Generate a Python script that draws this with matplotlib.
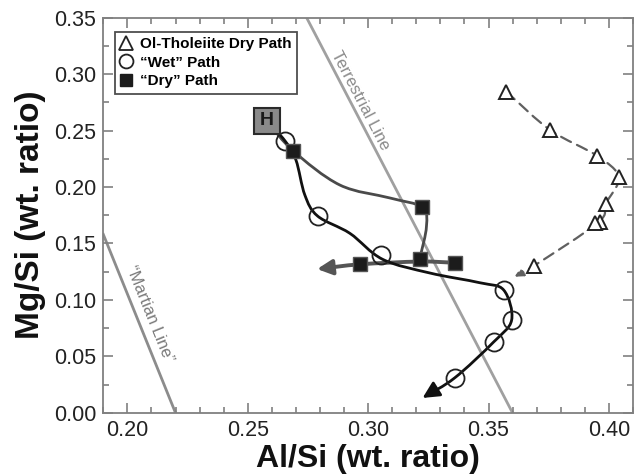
import numpy as np
import matplotlib
matplotlib.use("Agg")
import matplotlib.pyplot as plt
from matplotlib.path import Path
from matplotlib.patches import PathPatch, FancyArrowPatch
from matplotlib.lines import Line2D
from matplotlib.ticker import MultipleLocator

plt.rcParams['font.family'] = ['Liberation Sans', 'DejaVu Sans']

# ---- data -------------------------------------------------------------
# starting composition "H"
h_point = (0.2578, 0.2587)

# Ol-Tholeiite dry path (triangles) and the end of its arrow
tri_x = [0.3574, 0.3756, 0.3950, 0.4041, 0.3986, 0.3961, 0.3944, 0.3687]
tri_y = [0.2843, 0.2504, 0.2277, 0.2086, 0.1850, 0.1693, 0.1679, 0.1300]
tri_curve_x = [0.3574, 0.3756, 0.3950, 0.4041, 0.3986, 0.3955, 0.3687, 0.3608]
tri_curve_y = [0.2843, 0.2504, 0.2277, 0.2086, 0.1850, 0.1686, 0.1300, 0.1206]

# "Wet" path (circles)
wet_x = [0.2654, 0.2790, 0.3055, 0.3563, 0.3596, 0.3521, 0.3359]
wet_y = [0.2410, 0.1743, 0.1398, 0.1088, 0.0823, 0.0628, 0.0310]
wet_curve_x = [0.2578, 0.2654, 0.2700, 0.2737, 0.2790, 0.2924, 0.3060,
               0.3256, 0.3463, 0.3563, 0.3596, 0.3521, 0.3359, 0.3226]
wet_curve_y = [0.2587, 0.2410, 0.2239, 0.1929, 0.1743, 0.1590, 0.1360,
               0.1239, 0.1153, 0.1088, 0.0823, 0.0628, 0.0310, 0.0133]

# "Dry" path (squares)
dry_x = [0.2688, 0.3225, 0.3214, 0.3359, 0.2968]
dry_y = [0.2321, 0.1820, 0.1360, 0.1330, 0.1316]
dry_curve_x = [0.2578, 0.2688, 0.2882, 0.3090, 0.3225, 0.3242, 0.3214]
dry_curve_y = [0.2587, 0.2321, 0.2018, 0.1903, 0.1820, 0.1649, 0.1360]
dry_arrow_x = [0.3359, 0.3214, 0.2968, 0.2788]
dry_arrow_y = [0.1330, 0.1340, 0.1316, 0.1274]

# reference lines (two end points each)
terr_x = [0.2744, 0.3600]
terr_y = [0.3500, 0.0000]
mars_x = [0.1900, 0.2200]
mars_y = [0.1580, 0.0000]

xticks = [0.20, 0.25, 0.30, 0.35, 0.40]
yticks = [0.00, 0.05, 0.10, 0.15, 0.20, 0.25, 0.30, 0.35]


def smooth_path(xs, ys):
    """Catmull-Rom curve through the points, as a cubic Bezier Path."""
    p = np.column_stack([xs, ys]).astype(float)
    ext = np.vstack([2 * p[0] - p[1], p, 2 * p[-1] - p[-2]])
    verts = [tuple(p[0])]
    codes = [Path.MOVETO]
    for i in range(1, len(ext) - 2):
        p0, p1, p2, p3 = ext[i - 1], ext[i], ext[i + 1], ext[i + 2]
        c1 = p1 + (p2 - p0) / 6.0
        c2 = p2 - (p3 - p1) / 6.0
        verts += [tuple(c1), tuple(c2), tuple(p2)]
        codes += [Path.CURVE4] * 3
    return Path(verts, codes)


fig = plt.figure(figsize=(6.39, 4.76), dpi=100)
ax = fig.add_axes([0.1617, 0.1324, 0.8289, 0.8308])

spine_c = '#808080'
for s in ax.spines.values():
    s.set_color(spine_c)
    s.set_linewidth(1.3)

# reference lines
ax.plot(terr_x, terr_y, color='#a0a0a0', lw=2.0, zorder=1)
ax.plot(mars_x, mars_y, color='#8c8c8c', lw=2.0, zorder=1)
ax.text(0.2968, 0.2770, 'Terrestrial Line', rotation=-62.5, ha='center',
        va='center', fontsize=12, color='#8a8a8a', rotation_mode='anchor')
ax.text(0.2090, 0.0880, '\u201cMartian Line\u201d', rotation=-67.9,
        ha='center', va='center', fontsize=12, color='#7a7a7a',
        rotation_mode='anchor')

# dashed Ol-tholeiite path with arrow
ax.add_patch(FancyArrowPatch(path=smooth_path(tri_curve_x, tri_curve_y),
                             arrowstyle='-|>,head_length=5,head_width=2.5',
                             color='#606060', lw=1.6, linestyle=(0, (5, 3)),
                             zorder=2))

# dry path curve
ax.add_patch(PathPatch(smooth_path(dry_curve_x, dry_curve_y), fill=False,
                       edgecolor='#4a4a4a', lw=2.0, zorder=3))
ax.add_patch(FancyArrowPatch(path=smooth_path(dry_arrow_x, dry_arrow_y),
                             arrowstyle='-|>,head_length=9,head_width=4.5',
                             color='#555555', lw=2.8, zorder=3))

# wet path curve with arrow
ax.add_patch(FancyArrowPatch(path=smooth_path(wet_curve_x, wet_curve_y),
                             arrowstyle='-|>,head_length=10,head_width=5',
                             color='#111111', lw=2.0, zorder=4))

# markers
ax.plot(tri_x, tri_y, ls='none', marker='^', ms=10, mfc='white',
        mec='#222222', mew=1.4, zorder=5)
ax.plot(wet_x, wet_y, ls='none', marker='o', ms=13, mfc='none',
        mec='#222222', mew=1.3, zorder=5)
ax.plot(dry_x, dry_y, ls='none', marker='s', ms=10, mfc='#1c1c1c',
        mec='#555555', mew=1.0, zorder=6)

# starting point H
ax.plot([h_point[0]], [h_point[1]], ls='none', marker='s', ms=19,
        mfc='#8a8a8a', mec='#2a2a2a', mew=1.5, zorder=7)
ax.text(h_point[0], h_point[1], 'H', ha='center', va='center',
        fontsize=14, fontweight='bold', color='#1a1a1a', zorder=8)

ax.set_xlim(0.19, 0.41)
ax.set_ylim(0.0, 0.35)
ax.set_xticks(xticks)
ax.set_yticks(yticks)
ax.set_xticklabels([f'{v:.2f}' for v in xticks])
ax.set_yticklabels([f'{v:.2f}' for v in yticks])
ax.xaxis.set_minor_locator(MultipleLocator(0.01))
ax.yaxis.set_minor_locator(MultipleLocator(0.025))
ax.tick_params(which='both', direction='in', top=True, right=True,
               color=spine_c, width=1.2)
ax.tick_params(which='major', length=7, labelsize=15.5, labelcolor='#222222',
               pad=5)
ax.tick_params(which='minor', length=4)

ax.set_xlabel('Al/Si (wt. ratio)', fontsize=23, fontweight='bold',
              color='#111111', labelpad=2)
ax.set_ylabel('Mg/Si (wt. ratio)', fontsize=24, fontweight='bold',
              color='#111111', labelpad=6)

handles = [
    Line2D([], [], ls='none', marker='^', ms=10, mfc='white', mec='#222222',
           mew=1.3),
    Line2D([], [], ls='none', marker='o', ms=10, mfc='white', mec='#222222',
           mew=1.3),
    Line2D([], [], ls='none', marker='s', ms=9, mfc='#1c1c1c',
           mec='#1c1c1c'),
]
labels = ['Ol-Tholeiite Dry Path', '\u201cWet\u201d Path', '\u201cDry\u201d Path']
leg = ax.legend(handles, labels, loc='upper left',
                bbox_to_anchor=(0.022, 0.964), borderaxespad=0,
                prop={'weight': 'bold', 'size': 11}, frameon=True,
                fancybox=False, edgecolor='#222222', handlelength=0.8,
                handletextpad=0.5, labelspacing=0.3, borderpad=0.35)
leg.get_frame().set_linewidth(1.3)

fig.savefig('out.png', dpi=100)
